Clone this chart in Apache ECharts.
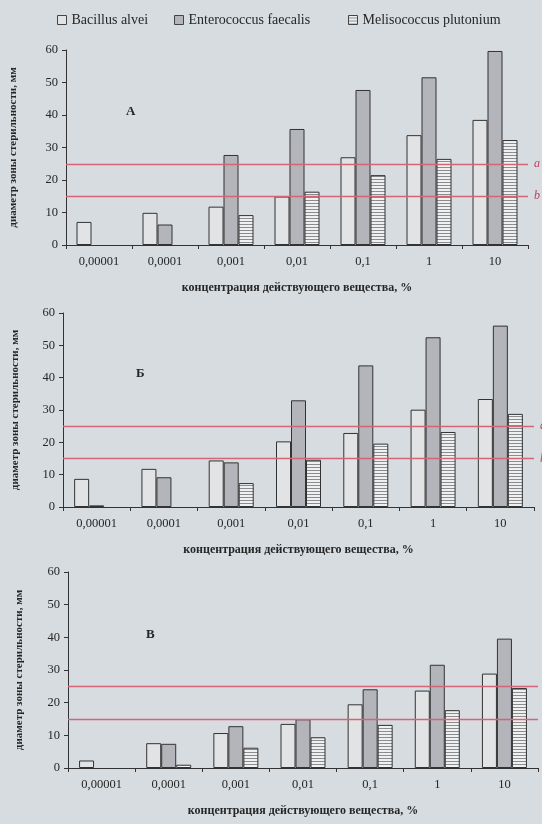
<!DOCTYPE html>
<html>
<head>
<meta charset="utf-8">
<script src="https://cdn.jsdelivr.net/npm/echarts@6/dist/echarts.min.js"></script>
<style>
html,body{margin:0;padding:0;background:#d6dce0;}
#chart{width:542px;height:824px;}
</style>
</head>
<body>
<div id="chart"></div>
<script>
// Data (null = no bar drawn)
var categories = ['0,00001', '0,0001', '0,001', '0,01', '0,1', '1', '10'];
var seriesNames = ['Bacillus alvei', 'Enterococcus faecalis', 'Melisococcus plutonium'];
var panelLetters = ['A', 'Б', 'В'];
// Panel A
var bacillusA = [7.1, 9.9, 11.8, 14.9, 27, 33.8, 38.5];
var enteroA   = [null, 6.3, 27.7, 35.7, 47.7, 51.6, 59.7];
var melisoA   = [null, null, 9.2, 16.4, 21.5, 26.5, 32.3];
// Panel Б
var bacillusB = [8.7, 11.8, 14.4, 20.3, 22.9, 30.1, 33.4];
var enteroB   = [0.5, 9.2, 13.8, 33, 43.8, 52.5, 56.1];
var melisoB   = [null, null, 7.4, 14.6, 19.6, 23.2, 28.8];
// Panel В
var bacillusC = [2.3, 7.6, 10.7, 13.5, 19.5, 23.7, 28.9];
var enteroC   = [null, 7.4, 12.8, 14.9, 24.1, 31.6, 39.6];
var melisoC   = [null, 1.0, 6.2, 9.4, 13.2, 17.7, 24.5];
// Reference levels
var levelA = 25, levelB = 15;
var levelLabels = ['a', 'b'];
var yTicks = {min: 0, max: 60, interval: 10};
var xTitle = 'концентрация действующего вещества, %';
var yTitle = 'диаметр зоны стерильности, мм';

var panelData = [
  [bacillusA, enteroA, melisoA],
  [bacillusB, enteroB, melisoB],
  [bacillusC, enteroC, melisoC]
];

// stripe pattern for Melisococcus
var pc = document.createElement('canvas');
pc.width = 4; pc.height = 3;
var pctx = pc.getContext('2d');
pctx.fillStyle = '#eef0f1'; pctx.fillRect(0,0,4,3);
pctx.fillStyle = '#8a8c8e'; pctx.fillRect(0,2,4,1);

var fills = ['#e2e3e5', '#b4b5ba', {image: pc, repeat: 'repeat'}];
var serif = '"Liberation Serif", "DejaVu Serif", serif';
var textColor = '#262626';

var grids = [
  {left: 60, right: 14, top: 50, height: 195},
  {left: 63, right: 8, top: 313, height: 194},
  {left: 68, right: 4, top: 572, height: 196}
];
var letterPos = [[126, 105], [136, 367], [146, 628]];

var xAxes = [], yAxes = [], series = [], graphics = [];
grids.forEach(function (g, i) {
  xAxes.push({
    type: 'category', gridIndex: i, data: categories,
    axisLine: {lineStyle: {color: '#333', width: 1}},
    axisTick: {show: true, inside: false, length: 4, lineStyle: {color: '#333'}},
    axisLabel: {fontFamily: serif, fontSize: 12.5, color: textColor, margin: 10},
    name: xTitle, nameLocation: 'middle', nameGap: 37,
    nameTextStyle: {fontFamily: serif, fontSize: 12, fontWeight: 'bold', color: textColor}
  });
  yAxes.push({
    type: 'value', gridIndex: i, min: yTicks.min, max: yTicks.max, interval: yTicks.interval,
    splitLine: {show: false},
    axisLine: {show: true, lineStyle: {color: '#333', width: 1}},
    axisTick: {show: true, length: 4, lineStyle: {color: '#333'}},
    axisLabel: {fontFamily: serif, fontSize: 12.5, color: textColor, margin: 8},
    name: yTitle, nameLocation: 'middle', nameGap: [47, 42, 43][i], nameRotate: 90,
    nameTextStyle: {fontFamily: serif, fontSize: 11, fontWeight: 'bold', color: textColor}
  });
  panelData[i].forEach(function (vals, k) {
    series.push({
      type: 'bar', name: seriesNames[k], xAxisIndex: i, yAxisIndex: i,
      data: vals, barWidth: 15, barGap: '0%', z: 3,
      itemStyle: {color: fills[k], borderColor: '#333', borderWidth: 1}
    });
  });
  series.push({
    type: 'line', xAxisIndex: i, yAxisIndex: i, data: [], z: 1, silent: true,
    markLine: {
      silent: true, symbol: 'none',
      lineStyle: {color: '#d46478', width: 1.3, type: 'solid'},
      label: {position: 'end', fontFamily: serif, fontStyle: 'italic', fontSize: 12, color: '#c04060', distance: 6},
      data: [
        {yAxis: levelA, label: {formatter: levelLabels[0]}},
        {yAxis: levelB, label: {formatter: levelLabels[1]}}
      ]
    }
  });
  graphics.push({
    type: 'text', left: letterPos[i][0], top: letterPos[i][1],
    style: {text: panelLetters[i], font: 'bold 13px ' + serif, fill: textColor}
  });
});

var legendBase = {
  top: 8, icon: 'rect', itemWidth: 9, itemHeight: 9, itemGap: 4,
  textStyle: {fontFamily: serif, fontSize: 14, color: textColor},
  itemStyle: {borderColor: '#444', borderWidth: 1}
};
var legendLefts = [52, 169, 343];
var legends = seriesNames.map(function (n, k) {
  return Object.assign({}, legendBase, {left: legendLefts[k], data: [n]});
});

var chart = echarts.init(document.getElementById('chart'), null, {renderer: 'canvas'});
chart.setOption({
  backgroundColor: '#d6dce0',
  animation: false,
  legend: legends,
  grid: grids,
  xAxis: xAxes,
  yAxis: yAxes,
  series: series,
  graphic: graphics
});
</script>
</body>
</html>
